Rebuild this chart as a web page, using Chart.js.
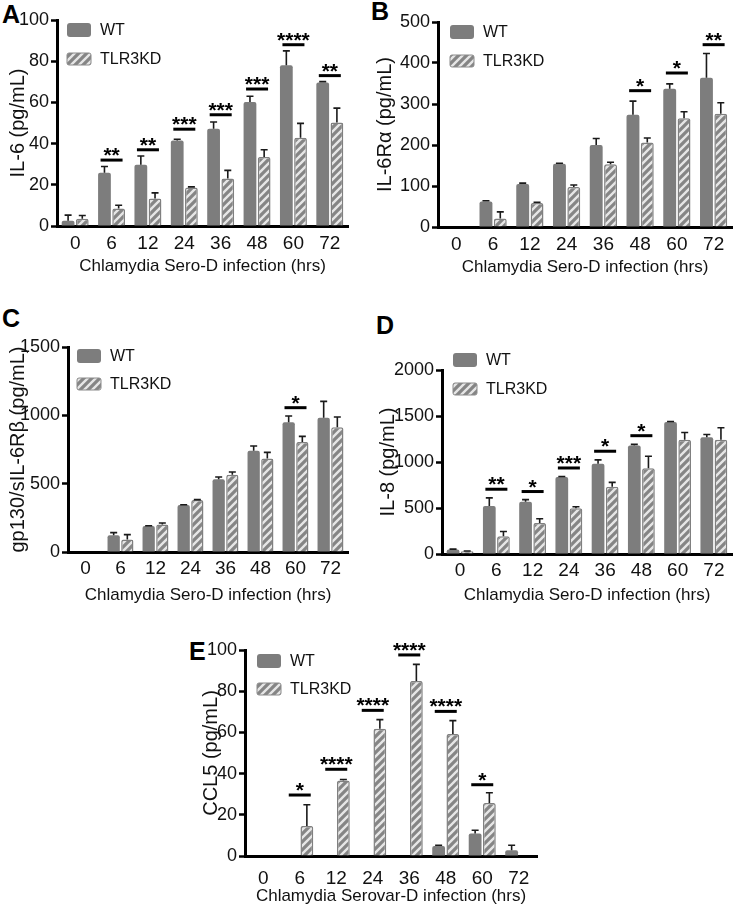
<!DOCTYPE html>
<html><head><meta charset="utf-8">
<script src="https://cdn.jsdelivr.net/npm/chart.js@4.4.1/dist/chart.umd.min.js"></script>
<style>
html,body{margin:0;padding:0;background:#fff;}
body{width:733px;height:907px;position:relative;overflow:hidden;font-family:"Liberation Sans",Arial,sans-serif;}
canvas{position:absolute;}
.letter{position:absolute;font:bold 25px/25px "Liberation Sans",Arial,sans-serif;color:#000;}
</style></head><body>
<div class="letter" style="left:2px;top:2px">A</div>
<div class="letter" style="left:371px;top:-1px">B</div>
<div class="letter" style="left:2px;top:306px">C</div>
<div class="letter" style="left:376px;top:313px">D</div>
<div class="letter" style="left:189px;top:639px">E</div>
<canvas id="cA"></canvas><canvas id="cB"></canvas><canvas id="cC"></canvas><canvas id="cD"></canvas><canvas id="cE"></canvas>
<script>
// ---------- data ----------
const hours = ['0', '6', '12', '24', '36', '48', '60', '72'];
const seriesNames = ['WT', 'TLR3KD'];

// A: IL-6
const il6WT     = [2.6, 25.9, 29.7, 41.5, 47.2, 60.2, 78.0, 69.7];
const il6WTErr  = [2.7, 3.0, 4.3, 0.6, 3.3, 2.8, 7.0, 0.4];
const il6KO     = [3.5, 8.5, 13.3, 18.7, 23.0, 33.5, 42.8, 50.2];
const il6KOErr  = [1.6, 1.6, 2.8, 0.3, 4.0, 3.5, 7.0, 7.0];
const il6Stars  = ['', '**', '**', '***', '***', '***', '****', '**'];
const il6SigAt  = [null, 32, 37, 47, 54, 66.5, 88, 73];
const il6Ticks  = [0, 20, 40, 60, 80, 100];

// B: IL-6Rα
const il6raWT    = [0, 62, 105, 154.5, 200, 274, 337, 364];
const il6raWTErr = [0, 2, 2, 1, 16, 33, 12, 59];
const il6raKO    = [0, 21, 58.5, 97.5, 153, 206, 265, 276];
const il6raKOErr = [0, 16, 2, 5, 5, 11, 16, 27];
const il6raStars = ['', '', '', '', '', '*', '*', '**'];
const il6raSigAt = [null, null, null, null, null, 332.5, 375.6, 444.7];
const il6raTicks = [0, 100, 200, 300, 400, 500];

// C: gp130/sIL-6Rβ
const gpWT     = [0, 122, 190, 344, 532, 741, 949, 983];
const gpWTErr  = [0, 20, 2, 2, 17, 35, 46, 119];
const gpKO     = [0, 92, 202, 380, 566, 685, 805, 912];
const gpKOErr  = [0, 35, 10, 3, 19, 44, 41, 76];
const gpStars  = ['', '', '', '', '', '', '*', ''];
const gpSigAt  = [null, null, null, null, null, null, 1056, null];
const gpTicks  = [0, 500, 1000, 1500];

// D: IL-8
const il8WT    = [49, 523, 568, 838, 981, 1179, 1435, 1269];
const il8WTErr = [4, 87, 23, 4, 42, 13, 6, 30];
const il8KO    = [29, 192, 338, 497, 731, 932, 1243, 1243];
const il8KOErr = [3, 52, 45, 16, 48, 130, 78, 130];
const il8Stars = ['', '**', '*', '***', '*', '*', '', ''];
const il8SigAt = [null, 704, 679, 935, 1117, 1286, null, null];
const il8Ticks = [0, 500, 1000, 1500, 2000];

// E: CCL5
const ccl5WT    = [0, 0, 0, 0, 0, 4.9, 10.9, 2.8];
const ccl5WTErr = [0, 0, 0, 0, 0, 0.3, 1.6, 2.4];
const ccl5KO    = [0, 14.6, 36.6, 61.8, 85.0, 59.2, 25.7, 0];
const ccl5KOErr = [0, 10.3, 0.5, 4.4, 8.0, 6.5, 5.0, 0];
const ccl5Stars = ['', '*', '****', '****', '****', '****', '*', ''];
const ccl5SigAt = [null, 29.6, 42.1, 70.7, 97.6, 70.2, 34.6, null];
const ccl5Ticks = [0, 20, 40, 60, 80, 100];

// ---------- styling ----------
const FONT = '"Liberation Sans", Arial, sans-serif';
const WT_COLOR = '#7d7d7d';
function makeHatch() {
  const t = document.createElement('canvas');
  t.width = 8; t.height = 8;
  const g = t.getContext('2d');
  g.fillStyle = '#858585'; g.fillRect(0, 0, 8, 8);
  g.strokeStyle = '#e6e6e6'; g.lineWidth = 2.4;
  g.beginPath();
  g.moveTo(0, 8); g.lineTo(8, 0);
  g.moveTo(-4, 4); g.lineTo(4, -4);
  g.moveTo(4, 12); g.lineTo(12, 4);
  g.stroke();
  return g.createPattern(t, 'repeat');
}
const HATCH = makeHatch();

function extras(p) {
  return {
    id: 'extras' + p.id,
    afterDatasetsDraw(chart) {
      const ctx = chart.ctx, y = chart.scales.y, x = chart.scales.x;
      ctx.save();
      ctx.strokeStyle = '#1a1a1a'; ctx.lineWidth = 1.6;
      [[p.wt, p.wtErr], [p.ko, p.koErr]].forEach((pair, di) => {
        const meta = chart.getDatasetMeta(di);
        meta.data.forEach((bar, i) => {
          const v = pair[0][i], e = pair[1][i];
          if (!e) return;
          const y0 = y.getPixelForValue(v), y1 = y.getPixelForValue(v + e);
          ctx.beginPath();
          ctx.moveTo(bar.x, y0); ctx.lineTo(bar.x, y1);
          ctx.moveTo(bar.x - 3.5, y1); ctx.lineTo(bar.x + 3.5, y1);
          ctx.stroke();
        });
      });
      // significance
      ctx.lineWidth = 3; ctx.strokeStyle = '#000'; ctx.fillStyle = '#000';
      ctx.font = 'bold 21px ' + FONT; ctx.textAlign = 'center'; ctx.textBaseline = 'alphabetic';
      p.sigAt.forEach((lv, i) => {
        if (lv == null) return;
        const cx = x.getPixelForValue(i), py = y.getPixelForValue(lv);
        ctx.beginPath(); ctx.moveTo(cx - 11, py); ctx.lineTo(cx + 11, py); ctx.stroke();
        ctx.fillText(p.stars[i], cx, py + 2);
      });
      ctx.restore();
    },
    afterDraw(chart) {
      const ctx = chart.ctx, L = p.legend;
      ctx.save();
      ctx.fillStyle = WT_COLOR;
      ctx.beginPath(); ctx.roundRect(L.x, L.y, 24, 14, 3); ctx.fill();
      ctx.fillStyle = HATCH; ctx.strokeStyle = '#8a8a8a'; ctx.lineWidth = 1;
      ctx.beginPath(); ctx.roundRect(L.x, L.y + L.gap, 24, 12, 2); ctx.fill(); ctx.stroke();
      ctx.fillStyle = '#111'; ctx.font = '16px ' + FONT; ctx.textAlign = 'left'; ctx.textBaseline = 'middle';
      ctx.fillText(seriesNames[0], L.x + 33, L.y + 7.5);
      ctx.fillText(seriesNames[1], L.x + 33, L.y + L.gap + 6.5);
      ctx.restore();
    }
  };
}

const panels = [
  {id: 'A', left: 0, top: 0, w: 366, h: 282, area: {l: 57, t: 20, r: 348, b: 226},
   wt: il6WT, wtErr: il6WTErr, ko: il6KO, koErr: il6KOErr, stars: il6Stars, sigAt: il6SigAt, ticks: il6Ticks,
   yTitle: 'IL-6 (pg/mL)', yTitlePad: 6, xTitle: 'Chlamydia Sero-D infection (hrs)', xPad: 6, xTitlePad: 5,
   legend: {x: 67, y: 23, gap: 30}},
  {id: 'B', left: 366, top: 0, w: 367, h: 282, area: {l: 72, t: 22, r: 366, b: 227},
   wt: il6raWT, wtErr: il6raWTErr, ko: il6raKO, koErr: il6raKOErr, stars: il6raStars, sigAt: il6raSigAt, ticks: il6raTicks,
   yTitle: 'IL-6Rα (pg/mL)', yTitlePad: 7, xTitle: 'Chlamydia Sero-D infection (hrs)', xPad: 6, xTitlePad: 4,
   legend: {x: 84, y: 25, gap: 30}},
  {id: 'C', left: 0, top: 290, w: 366, h: 317, area: {l: 68, t: 57, r: 348, b: 262},
   wt: gpWT, wtErr: gpWTErr, ko: gpKO, koErr: gpKOErr, stars: gpStars, sigAt: gpSigAt, ticks: gpTicks,
   yTitle: 'gp130/sIL-6Rβ (pg/mL)', yTitlePad: 6, xTitle: 'Chlamydia Sero-D infection (hrs)', xPad: 5, xTitlePad: 1,
   legend: {x: 77, y: 59, gap: 29}},
  {id: 'D', left: 366, top: 290, w: 367, h: 317, area: {l: 76, t: 80, r: 366, b: 264},
   wt: il8WT, wtErr: il8WTErr, ko: il8KO, koErr: il8KOErr, stars: il8Stars, sigAt: il8SigAt, ticks: il8Ticks,
   yTitle: 'IL-8 (pg/mL)', yTitlePad: 10, xTitle: 'Chlamydia Sero-D infection (hrs)', xPad: 5, xTitlePad: 1,
   legend: {x: 87, y: 63, gap: 30}},
  {id: 'E', left: 150, top: 630, w: 400, h: 277, area: {l: 95, t: 20, r: 387, b: 226},
   wt: ccl5WT, wtErr: ccl5WTErr, ko: ccl5KO, koErr: ccl5KOErr, stars: ccl5Stars, sigAt: ccl5SigAt, ticks: ccl5Ticks,
   yTitle: 'CCL5 (pg/mL)', yTitlePad: 49, xTitle: 'Chlamydia Serovar-D infection (hrs)', xPad: 11, xTitlePad: 0,
   legend: {x: 107, y: 24, gap: 29}}
];

panels.forEach(p => {
  const cv = document.getElementById('c' + p.id);
  cv.width = p.w; cv.height = p.h;
  cv.style.left = p.left + 'px'; cv.style.top = p.top + 'px';
  cv.style.width = p.w + 'px'; cv.style.height = p.h + 'px';
  const ticks = p.ticks;
  new Chart(cv, {
    type: 'bar',
    data: {
      labels: hours,
      datasets: [
        {label: seriesNames[0], data: p.wt, backgroundColor: WT_COLOR, borderWidth: 0, borderRadius: 2,
         categoryPercentage: 0.78, barPercentage: 0.9},
        {label: seriesNames[1], data: p.ko, backgroundColor: HATCH, borderColor: '#808080', borderWidth: 1.5, borderRadius: 2,
         categoryPercentage: 0.78, barPercentage: 0.9}
      ]
    },
    options: {
      responsive: false, animation: false, devicePixelRatio: 1,
      layout: {padding: {left: 0, top: p.area.t, right: p.w - p.area.r, bottom: 0}},
      plugins: {legend: {display: false}, tooltip: {enabled: false}},
      scales: {
        x: {
          z: 1,
          grid: {display: false, drawTicks: false},
          border: {display: true, color: '#000', width: 3},
          ticks: {color: '#111', font: {family: FONT, size: 19}, padding: p.xPad, maxRotation: 0, autoSkip: false},
          title: {display: true, text: p.xTitle, color: '#111', font: {family: FONT, size: 17}, padding: {top: 0, bottom: p.xTitlePad}},
          afterFit(s) { s.height = p.h - p.area.b; }
        },
        y: {
          z: 1,
          min: ticks[0], max: ticks[ticks.length - 1],
          afterBuildTicks(s) { s.ticks = ticks.map(v => ({value: v})); },
          grid: {display: true, drawOnChartArea: false, drawTicks: true, tickLength: 6, tickWidth: 2.5, tickColor: '#000', color: '#000'},
          border: {display: true, color: '#000', width: 3},
          ticks: {color: '#111', font: {family: FONT, size: 18}, padding: 2, callback: v => String(v)},
          title: {display: true, text: p.yTitle, color: '#111', font: {family: FONT, size: 20}, padding: {top: p.yTitlePad, bottom: 0}},
          afterFit(s) { s.width = p.area.l; }
        }
      }
    },
    plugins: [extras(p)]
  });
});
</script>
</body></html>
